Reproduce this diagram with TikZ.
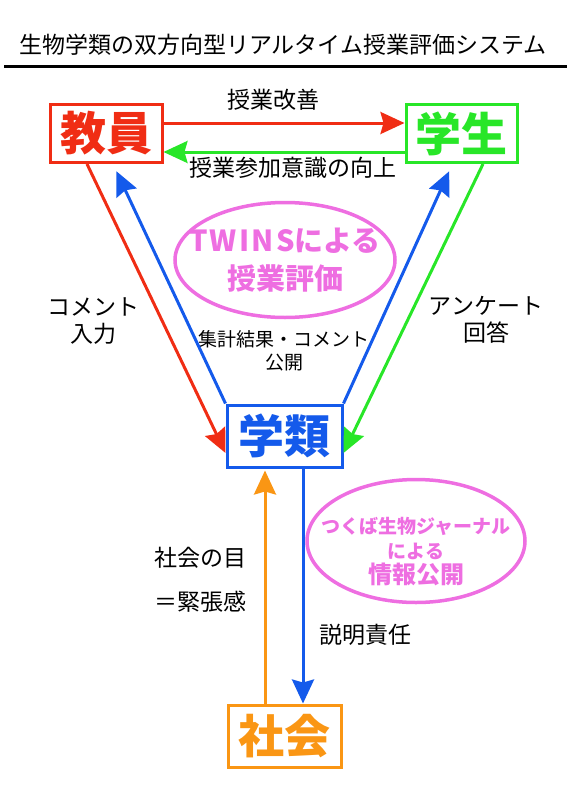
\documentclass[tikz,border=0pt]{standalone}
\usepackage{fontspec}
\setmainfont{Noto Sans CJK JP}
\usepackage{tikz}
\usetikzlibrary{positioning,arrows.meta,shapes.geometric}

\definecolor{kred}{RGB}{240,45,20}
\definecolor{kgreen}{RGB}{40,230,40}
\definecolor{kblue}{RGB}{20,90,235}
\definecolor{korange}{RGB}{250,150,20}
\definecolor{kpink}{RGB}{238,110,225}

\begin{document}
\begin{tikzpicture}[x=1pt, y=-1pt,
    box/.style={draw=#1, text=#1, line width=3pt, fill=white, minimum width=112pt, minimum height=58pt, inner sep=0pt, font=\fontsize{46}{48}\selectfont\bfseries},
    lbl/.style={align=center, inner sep=0pt, font=\fontsize{23}{27}\selectfont},
    oval/.style={draw=kpink, ellipse, line width=3.5pt, inner sep=0pt},
    ovaltext/.style={text=kpink, align=center, inner sep=0pt},
    link/.style={line width=3pt, -{Stealth[length=24pt,width=22pt,inset=3pt]}}]
    \useasboundingbox (0,0) rectangle (571,809);

    % title
    \node[inner sep=0pt, font=\fontsize{23}{23}\selectfont] (Title) at (283,45) {生物学類の双方向型リアルタイム授業評価システム};
    \draw[line width=3pt] (4,66) -- (567,66);

    % boxes
    \node[box=kred] (Teacher) at (106,133.5) {教員};
    \node[box=kgreen, minimum width=111pt] (Student) at (461.5,133.5) {学生};
    \node[box=kblue, minimum width=115pt, minimum height=62pt] (College) at (284.5,436) {学類};
    \node[box=korange, minimum width=113pt, minimum height=62pt] (Society) at (284.5,736) {社会};

    % ovals
    \node[oval, minimum width=220pt, minimum height=115pt] (TwinsOval) at (285,260) {};
    \node[ovaltext, font=\fontsize{29}{38}\selectfont\bfseries] (TwinsText) at (TwinsOval) {{\addfontfeature{LetterSpace=8}TWINS}による\\授業評価};
    \node[oval, minimum width=218pt, minimum height=123pt] (JournalOval) at (416,541) {};
    \node[ovaltext, font=\fontsize{19}{25}\selectfont\bfseries] (JournalText) at (416,552) {つくば生物ジャーナル\\による\\{\fontsize{24}{25}\selectfont 情報公開}};

    % labels
    \node[lbl] (Kaizen) at (273,100) {授業改善};
    \node[lbl] (Ishiki) at (293,168) {授業参加意識の向上};
    \node[lbl] (Comment) at (93,321) {コメント\\入力};
    \node[lbl] (Enquete) at (486,320) {アンケート\\回答};
    \node[lbl, font=\fontsize{19}{23}\selectfont] (Kokai) at (284,351) {集計結果・コメント\\公開};
    \node[lbl] (Eye) at (200,558) {社会の目};
    \node[lbl, below=22pt of Eye] (Tension) {＝緊張感};
    \node[lbl] (Setsumei) at (365,635) {説明責任};

    % connectors
    \draw[link, kred] ([yshift=10.5pt]Teacher.east) -- ([yshift=10.5pt]Student.west);
    \draw[link, kgreen] ([yshift=-18.5pt]Student.west) -- ([yshift=-18.5pt]Teacher.east);
    \draw[link, kred] ([xshift=-19pt]Teacher.south) -- ([yshift=-17pt]College.west);
    \draw[link, kgreen] ([xshift=21.5pt]Student.south) -- ([yshift=-17pt]College.east);
    \draw[link, kblue, shorten >=8pt] (College.north west) -- ([xshift=7pt]Teacher.south);
    \draw[link, kblue, shorten >=8pt] (College.north east) -- ([xshift=-9pt]Student.south);
    \draw[link, kblue] ([xshift=18.5pt]College.south) -- ([xshift=18.5pt]Society.north);
    \draw[link, korange, shorten >=2pt] ([xshift=-19.5pt]Society.north) -- ([xshift=-19.5pt]College.south);
\end{tikzpicture}
\end{document}
